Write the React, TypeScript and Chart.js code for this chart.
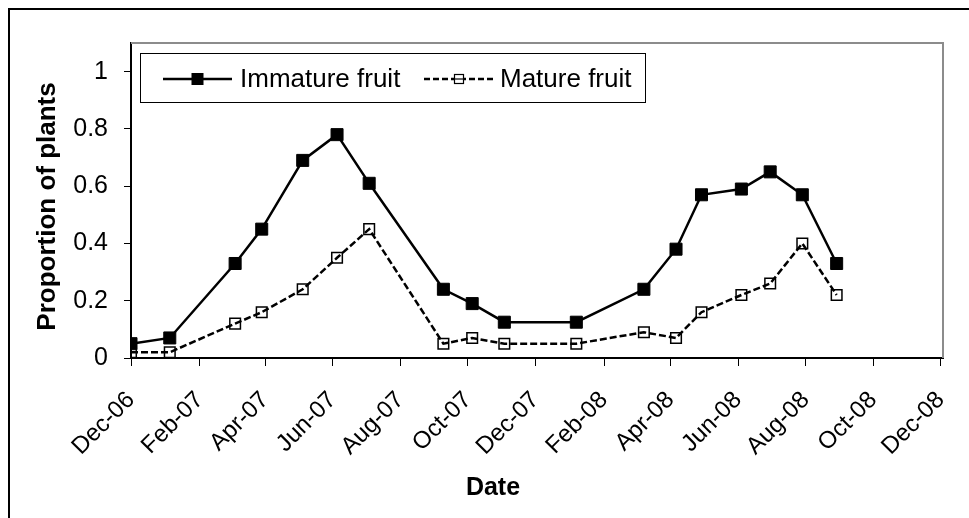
import React, { useEffect, useRef } from "react";
import { Chart, registerables } from "chart.js";

Chart.register(...registerables);

// ---- data ----
const sampleDates = [
  "2006-12-01", "2007-01-05", "2007-03-05", "2007-03-29", "2007-05-05", "2007-06-05",
  "2007-07-04", "2007-09-09", "2007-10-05", "2007-11-03", "2008-01-07", "2008-03-08",
  "2008-04-06", "2008-04-29", "2008-06-04", "2008-06-30", "2008-07-29", "2008-08-29",
];
const immatureFruit = [
  0.05, 0.07, 0.33, 0.45, 0.69, 0.78, 0.61, 0.24, 0.19, 0.125, 0.125, 0.24, 0.38, 0.57, 0.59, 0.65, 0.57, 0.33,
];
const matureFruit = [
  0.02, 0.02, 0.12, 0.16, 0.24, 0.35, 0.45, 0.05, 0.07, 0.05, 0.05, 0.09, 0.07, 0.16, 0.22, 0.26, 0.4, 0.22,
];
const xTickDates = [
  "2006-12-01", "2007-02-01", "2007-04-01", "2007-06-01", "2007-08-01", "2007-10-01", "2007-12-01",
  "2008-02-01", "2008-04-01", "2008-06-01", "2008-08-01", "2008-10-01", "2008-12-01",
];
const xTickLabels = [
  "Dec-06", "Feb-07", "Apr-07", "Jun-07", "Aug-07", "Oct-07", "Dec-07",
  "Feb-08", "Apr-08", "Jun-08", "Aug-08", "Oct-08", "Dec-08",
];
const yTickValues = [0, 0.2, 0.4, 0.6, 0.8, 1];
const yTickLabels = ["0", "0.2", "0.4", "0.6", "0.8", "1"];
const seriesNames = ["Immature fruit", "Mature fruit"];
const axisStartDate = "2006-12-01";
const axisEndDate = "2008-12-03";
const yAxisMax = 1.1;
const xAxisTitle = "Date";
const yAxisTitle = "Proportion of plants";

const FONT = "'Liberation Sans', Arial, Helvetica, sans-serif";

const dayOf = (s: string) => (Date.parse(s) - Date.parse(axisStartDate)) / 86400000;

const overlayPlugin = {
  id: "overlay",
  beforeDatasetsDraw(chart: any) {
    const { ctx, chartArea } = chart;
    ctx.save();
    ctx.strokeStyle = "#8c8c8c";
    ctx.lineWidth = 2;
    ctx.beginPath();
    ctx.moveTo(chartArea.left, chartArea.top);
    ctx.lineTo(chartArea.right, chartArea.top);
    ctx.lineTo(chartArea.right, chartArea.bottom);
    ctx.stroke();
    ctx.restore();
  },
  afterDraw(chart: any) {
    const { ctx, chartArea } = chart;
    ctx.save();
    // axis titles
    ctx.fillStyle = "#000";
    ctx.font = `bold 25px ${FONT}`;
    ctx.textAlign = "center";
    ctx.textBaseline = "middle";
    ctx.fillText(xAxisTitle, 493, 488);
    ctx.save();
    ctx.font = `bold 26px ${FONT}`;
    ctx.translate(48, (chartArea.top + chartArea.bottom) / 2 + 6);
    ctx.rotate(-Math.PI / 2);
    ctx.fillText(yAxisTitle, 0, 0);
    ctx.restore();

    // legend
    const bx = 140.5, by = 53.5, bw = 505, bh = 49;
    ctx.fillStyle = "#fff";
    ctx.fillRect(bx, by, bw, bh);
    ctx.strokeStyle = "#000";
    ctx.lineWidth = 1;
    ctx.strokeRect(bx, by, bw, bh);
    const ly = 79;
    // entry 1
    ctx.strokeStyle = "#000";
    ctx.lineWidth = 2.5;
    ctx.setLineDash([]);
    ctx.beginPath();
    ctx.moveTo(163, ly);
    ctx.lineTo(232, ly);
    ctx.stroke();
    ctx.fillStyle = "#000";
    ctx.fillRect(197.5 - 6, ly - 6, 12, 12);
    ctx.font = `26px ${FONT}`;
    ctx.textAlign = "left";
    ctx.textBaseline = "middle";
    ctx.fillText(seriesNames[0], 240, ly + 1);
    // entry 2
    ctx.setLineDash([6, 3]);
    ctx.beginPath();
    ctx.moveTo(424, ly);
    ctx.lineTo(495, ly);
    ctx.stroke();
    ctx.setLineDash([]);
    ctx.fillStyle = "#fff";
    ctx.fillRect(459 - 4.5, ly - 4.5, 9, 9);
    ctx.lineWidth = 1.2;
    ctx.strokeRect(459 - 4.5, ly - 4.5, 9, 9);
    ctx.beginPath();
    ctx.moveTo(459 - 4.5, ly);
    ctx.lineTo(459 + 4.5, ly);
    ctx.stroke();
    ctx.fillStyle = "#000";
    ctx.fillText(seriesNames[1], 500, ly + 1);
    ctx.restore();
  },
};

export default function App() {
  const canvasRef = useRef<HTMLCanvasElement | null>(null);

  useEffect(() => {
    if (!canvasRef.current) return;
    const immData = sampleDates.map((d, i) => ({ x: dayOf(d), y: immatureFruit[i] }));
    const matData = sampleDates.map((d, i) => ({ x: dayOf(d), y: matureFruit[i] }));
    const chart = new Chart(canvasRef.current, {
      type: "line",
      data: {
        datasets: [
          {
            label: seriesNames[0],
            data: immData,
            borderColor: "#000",
            borderWidth: 2.5,
            pointStyle: "rect",
            pointRadius: 8.5,
            pointBackgroundColor: "#000",
            pointBorderColor: "#000",
            pointBorderWidth: 1,
            tension: 0,
          },
          {
            label: seriesNames[1],
            data: matData,
            borderColor: "#000",
            borderWidth: 2.5,
            borderDash: [7, 3],
            pointStyle: "rect",
            pointRadius: 7.5,
            pointBackgroundColor: "rgba(0,0,0,0)",
            pointBorderColor: "#000",
            pointBorderWidth: 1.5,
            tension: 0,
          },
        ],
      },
      options: {
        animation: false,
        responsive: false,
        devicePixelRatio: 1,
        layout: { padding: { top: 43, right: 26, bottom: 0, left: 0 } },
        plugins: { legend: { display: false }, tooltip: { enabled: false } },
        scales: {
          x: {
            type: "linear",
            min: 0,
            max: dayOf(axisEndDate),
            afterBuildTicks: (s: any) => {
              s.ticks = xTickDates.map((d) => ({ value: dayOf(d) }));
            },
            afterFit: (s: any) => {
              s.height = 160;
              s.paddingLeft = 0;
              s.paddingRight = 0;
            },
            ticks: {
              autoSkip: false,
              maxRotation: 45,
              minRotation: 45,
              padding: 20,
              color: "#000",
              font: { family: FONT, size: 24 },
              callback: (_v: any, i: number) => xTickLabels[i],
            },
            grid: { drawOnChartArea: false, drawTicks: true, tickLength: 8, color: "#000", lineWidth: 1 },
            border: { display: true, color: "#000", width: 2 },
          },
          y: {
            type: "linear",
            min: 0,
            max: yAxisMax,
            afterBuildTicks: (s: any) => {
              s.ticks = yTickValues.map((v) => ({ value: v }));
            },
            afterFit: (s: any) => {
              s.width = 131;
              s.paddingTop = 0;
              s.paddingBottom = 0;
            },
            ticks: {
              padding: 16,
              color: "#000",
              font: { family: FONT, size: 25 },
              callback: (_v: any, i: number) => yTickLabels[i],
            },
            grid: { drawOnChartArea: false, drawTicks: true, tickLength: 7, color: "#000", lineWidth: 1 },
            border: { display: true, color: "#000", width: 2 },
          },
        },
      },
      plugins: [overlayPlugin],
    });
    return () => chart.destroy();
  }, []);

  return (
    <div style={{ position: "absolute", left: 0, top: 0, width: 969, height: 518, overflow: "hidden", background: "#fff" }}>
      <div style={{ position: "absolute", left: 8, top: 8, width: 1100, height: 700, border: "2px solid #000" }} />
      <canvas ref={canvasRef} width={969} height={518} style={{ position: "absolute", left: 0, top: 0, width: 969, height: 518 }} />
    </div>
  );
}
